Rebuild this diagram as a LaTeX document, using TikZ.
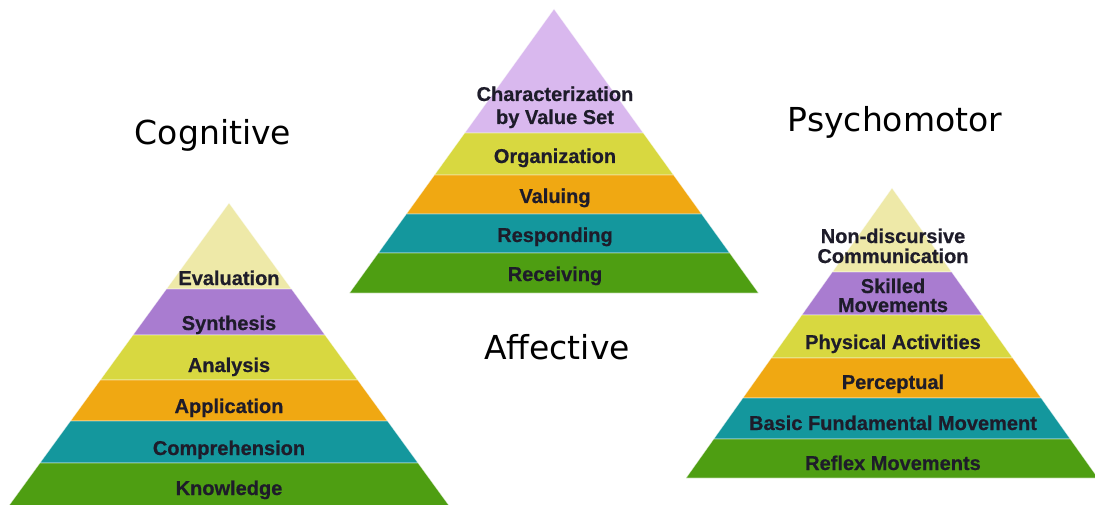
\documentclass[tikz,border=0pt]{standalone}
\usepackage{fontspec}
\setmainfont{Liberation Sans}
\newfontfamily\lblfont[FakeBold=0.6]{Liberation Sans Bold}
\newfontfamily\titlefont{DejaVu Sans}
\definecolor{cpale}{HTML}{EEE9A8}
\definecolor{cpurple}{HTML}{A97CD0}
\definecolor{clilac}{HTML}{D9B8EE}
\definecolor{cyellow}{HTML}{D8D840}
\definecolor{corange}{HTML}{F0A812}
\definecolor{cteal}{HTML}{14979D}
\definecolor{cgreen}{HTML}{4E9E12}
\definecolor{ctext}{HTML}{1E1C2A}
\newcommand{\pband}[6]{%
  \pgfmathsetmacro\wa{#3*(#4-#2)}%
  \pgfmathsetmacro\wb{#3*(#5-#2)}%
  \filldraw[band,fill=#6] ({#1-\wa},#4) -- ({#1+\wa},#4) -- ({#1+\wb},#5) -- ({#1-\wb},#5) -- cycle;}
\begin{document}
\begin{tikzpicture}[x=1pt,y=-1pt,
  band/.style={draw=white,draw opacity=0.55,line width=0.6pt},
  lbl/.style={anchor=base,inner sep=0pt,align=center,text=ctext,font=\lblfont\fontsize{20}{20}\selectfont},
  ttl/.style={anchor=base,inner sep=0pt,text=black,font=\titlefont\fontsize{33}{34}\selectfont}]
\useasboundingbox[fill=white] (0,0) rectangle (1095,505);
% Cognitive pyramid
\pband{229}{203}{0.727}{203}{289}{cpale}
\pband{229}{203}{0.727}{289}{335}{cpurple}
\pband{229}{203}{0.727}{335}{380}{cyellow}
\pband{229}{203}{0.727}{380}{421}{corange}
\pband{229}{203}{0.727}{421}{463}{cteal}
\pband{229}{203}{0.727}{463}{507}{cgreen}
% Affective pyramid
\pband{554}{9}{0.72}{9}{133}{clilac}
\pband{554}{9}{0.72}{133}{175}{cyellow}
\pband{554}{9}{0.72}{175}{214}{corange}
\pband{554}{9}{0.72}{214}{253}{cteal}
\pband{554}{9}{0.72}{253}{293}{cgreen}
% Psychomotor pyramid
\pband{892}{188}{0.71}{188}{272}{cpale}
\pband{892}{188}{0.71}{272}{315}{cpurple}
\pband{892}{188}{0.71}{315}{358}{cyellow}
\pband{892}{188}{0.71}{358}{398}{corange}
\pband{892}{188}{0.71}{398}{439}{cteal}
\pband{892}{188}{0.71}{439}{478}{cgreen}
% Cognitive labels
\node[lbl] (eval) at (229,285) {Evaluation};
\node[lbl] (synt) at (229,330) {Synthesis};
\node[lbl] (anal) at (229,372) {Analysis};
\node[lbl] (appl) at (229,413) {Application};
\node[lbl] (comp) at (229,455) {Comprehension};
\node[lbl] (know) at (229,495) {Knowledge};
% Affective labels
\node[lbl] (char) at (555,124) {Characterization\\[3pt]by Value Set};
\node[lbl] (orga) at (555,163) {Organization};
\node[lbl] (valu) at (555,203) {Valuing};
\node[lbl] (resp) at (555,242) {Responding};
\node[lbl] (rece) at (555,281) {Receiving};
% Psychomotor labels
\node[lbl] (nond) at (893,263) {Non-discursive\\Communication};
\node[lbl] (skil) at (893,312) {Skilled\\[-1pt]Movements};
\node[lbl] (phys) at (893,349) {Physical Activities};
\node[lbl] (perc) at (893,389) {Perceptual};
\node[lbl] (basi) at (893,430) {Basic Fundamental Movement};
\node[lbl] (refl) at (893,470) {Reflex Movements};
% Titles
\node[ttl] (cog) at (213,145) {Cognitive};
\node[ttl] (psy) at (895,132) {Psychomotor};
\node[ttl] (aff) at (557,359) {Affective};
\end{tikzpicture}
\end{document}
